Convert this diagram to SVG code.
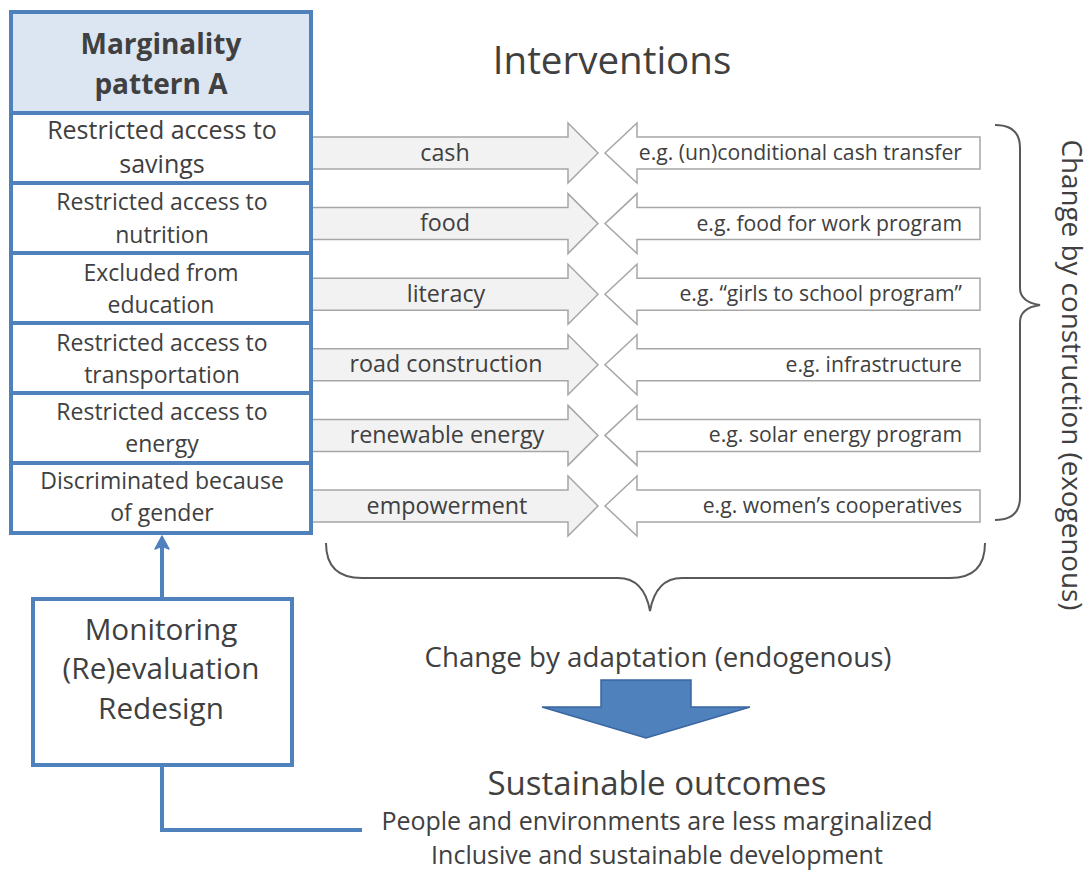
<svg xmlns="http://www.w3.org/2000/svg" width="1092" height="871" viewBox="0 0 1092 871">
<style>
  text { font-family: "Open Sans", Lato, "Liberation Sans", sans-serif; fill: #404040; }
  .row { font-size: 23px; text-anchor: middle; }
  .row1 { font-size: 25px; text-anchor: middle; }
  .hdr { font-size: 28px; font-weight: bold; text-anchor: middle; }
  .rarr { fill: #f2f2f2; stroke: #a6a6a6; stroke-width: 1.5; }
  .larr { fill: #ffffff; stroke: #a6a6a6; stroke-width: 1.5; }
  .atxt { font-size: 23.3px; text-anchor: middle; }
  .etxt { font-size: 21.2px; text-anchor: end; }
  .brace { fill: none; stroke: #595959; stroke-width: 2; }
  .blue { fill: none; stroke: #4f81bd; stroke-width: 4; }
</style>
<rect width="1092" height="871" fill="#ffffff"/>

<g id="connectors">
  <g id="arrows-right">
    <polygon class="rarr" points="312,137 568,137 568,123 598,153 568,183 568,169 312,169"/>
    <polygon class="rarr" points="312,207.6 568,207.6 568,193.6 598,223.6 568,253.6 568,239.6 312,239.6"/>
    <polygon class="rarr" points="312,278.2 568,278.2 568,264.2 598,294.2 568,324.2 568,310.2 312,310.2"/>
    <polygon class="rarr" points="312,348.8 568,348.8 568,334.8 598,364.8 568,394.8 568,380.8 312,380.8"/>
    <polygon class="rarr" points="312,419.4 568,419.4 568,405.4 598,435.4 568,465.4 568,451.4 312,451.4"/>
    <polygon class="rarr" points="312,490 568,490 568,476 598,506 568,536 568,522 312,522"/>
  </g>
  <g id="arrows-left">
    <polygon class="larr" points="605,153 637,123 637,137 980,137 980,169 637,169 637,183"/>
    <polygon class="larr" points="605,223.6 637,193.6 637,207.6 980,207.6 980,239.6 637,239.6 637,253.6"/>
    <polygon class="larr" points="605,294.2 637,264.2 637,278.2 980,278.2 980,310.2 637,310.2 637,324.2"/>
    <polygon class="larr" points="605,364.8 637,334.8 637,348.8 980,348.8 980,380.8 637,380.8 637,394.8"/>
    <polygon class="larr" points="605,435.4 637,405.4 637,419.4 980,419.4 980,451.4 637,451.4 637,465.4"/>
    <polygon class="larr" points="605,506 637,476 637,490 980,490 980,522 637,522 637,536"/>
  </g>
  <path class="blue" d="M162,599 L162,544"/>
  <path d="M162,536 L169,549 L162,546 L155,549 Z" fill="#4f81bd" stroke="#4f81bd" stroke-width="1.5" stroke-linejoin="round"/>
  <path class="blue" d="M162,765 L162,830 L362,830"/>
  <path class="brace" d="M995,125 Q1020,125 1020,148 L1020,288 Q1020,302 1040,305 Q1020,308 1020,322 L1020,497 Q1020,520 995,520"/>
  <path class="brace" d="M326,543 Q326,578 362,578 L618,578 Q644,578 650,611 Q656,578 682,578 L950,578 Q985,578 985,543"/>
  <path d="M601,680 L691,680 L691,707 L750,707 L646,738 L542,707 L601,707 Z" fill="#4f81bd" stroke="#3a66a0" stroke-width="1.5"/>
</g>

<g id="arrow-labels">
  <text class="atxt" x="445" y="161">cash</text>
  <text class="atxt" x="445" y="231">food</text>
  <text class="atxt" x="446" y="302">literacy</text>
  <text class="atxt" x="446" y="372">road construction</text>
  <text class="atxt" x="447" y="443">renewable energy</text>
  <text class="atxt" x="447" y="514">empowerment</text>
  <text class="etxt" x="962" y="160">e.g. (un)conditional cash transfer</text>
  <text class="etxt" x="962" y="231">e.g. food for work program</text>
  <text class="etxt" x="962" y="301">e.g. “girls to school program”</text>
  <text class="etxt" x="962" y="372">e.g. infrastructure</text>
  <text class="etxt" x="962" y="442">e.g. solar energy program</text>
  <text class="etxt" x="962" y="513">e.g. women’s cooperatives</text>
</g>

<g id="pattern-box">
  <rect x="11" y="12" width="300" height="101" fill="#dce6f2"/>
  <rect x="11" y="12" width="300" height="521" fill="none" stroke="#4f81bd" stroke-width="4"/>
  <g stroke="#4f81bd" stroke-width="4">
    <line x1="11" y1="113" x2="311" y2="113"/>
    <line x1="11" y1="183" x2="311" y2="183"/>
    <line x1="11" y1="253" x2="311" y2="253"/>
    <line x1="11" y1="323" x2="311" y2="323"/>
    <line x1="11" y1="393" x2="311" y2="393"/>
    <line x1="11" y1="463" x2="311" y2="463"/>
  </g>
  <text class="hdr" x="161" y="54">Marginality</text>
  <text class="hdr" x="161" y="94">pattern A</text>
  <g id="row1"><text class="row1" x="162" y="139">Restricted access to</text><text class="row1" x="162" y="173">savings</text></g>
  <g id="row2"><text class="row" x="162" y="210">Restricted access to</text><text class="row" x="162" y="243">nutrition</text></g>
  <g id="row3"><text class="row" x="161" y="281">Excluded from</text><text class="row" x="161" y="313">education</text></g>
  <g id="row4"><text class="row" x="162" y="351">Restricted access to</text><text class="row" x="162" y="383">transportation</text></g>
  <g id="row5"><text class="row" x="162" y="420">Restricted access to</text><text class="row" x="162" y="452">energy</text></g>
  <g id="row6"><text class="row" x="162" y="489">Discriminated because</text><text class="row" x="162" y="521">of gender</text></g>
</g>

<g id="monitoring">
  <rect x="33" y="599" width="259" height="166" fill="#ffffff" stroke="#4f81bd" stroke-width="4"/>
  <text x="161" y="640" font-size="29.7" text-anchor="middle">Monitoring</text>
  <text x="161" y="679" font-size="29.7" text-anchor="middle">(Re)evaluation</text>
  <text x="161" y="719" font-size="29.7" text-anchor="middle">Redesign</text>
</g>

<g id="titles">
  <text x="612" y="74" font-size="38.5" text-anchor="middle">Interventions</text>
  <text x="1062" y="375" font-size="27.8" text-anchor="middle" transform="rotate(90 1062 375)">Change by construction (exogenous)</text>
  <text x="658" y="667" font-size="27.7" text-anchor="middle">Change by adaptation (endogenous)</text>
  <text x="657" y="795" font-size="33" text-anchor="middle">Sustainable outcomes</text>
  <text x="657" y="830" font-size="25" text-anchor="middle">People and environments are less marginalized</text>
  <text x="657" y="864" font-size="25" text-anchor="middle">Inclusive and sustainable development</text>
</g>
</svg>
